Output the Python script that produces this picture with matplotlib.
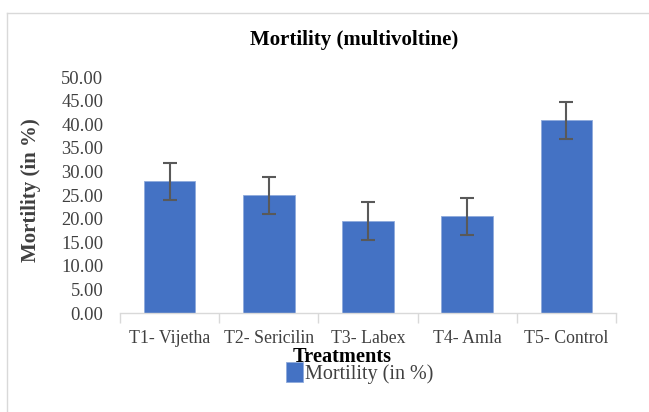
import matplotlib
matplotlib.use("Agg")
import matplotlib.pyplot as plt
import numpy as np

categories = ["T1- Vijetha", "T2- Sericilin", "T3- Labex", "T4- Amla", "T5- Control"]
mortality = [27.9, 24.9, 19.5, 20.5, 40.8]
errors = [3.9, 3.9, 3.95, 3.9, 3.9]
yticks = [0, 5, 10, 15, 20, 25, 30, 35, 40, 45, 50]

plt.rcParams['font.family'] = ['Liberation Serif', 'DejaVu Serif']

W, H = 649, 412
fig = plt.figure(figsize=(W / 100, H / 100), dpi=100)
ax = fig.add_axes([120 / W, 1 - 313 / H, (616 - 120) / W, (313 - 77) / H])

x = np.arange(len(categories))
ax.bar(x, mortality, width=0.52, color="#4472C4", edgecolor="#8FAADC", linewidth=0.6,
       yerr=errors, error_kw=dict(ecolor="#595959", elinewidth=1.5, capsize=5, capthick=1.5),
       label="Mortility (in %)", zorder=2)

ax.set_xlim(-0.5, len(categories) - 0.5)
ax.set_ylim(0, 50)
ax.set_yticks(yticks)
ax.set_yticklabels([f"{v:.2f}" for v in yticks], fontsize=13.3, color="#404040")
ax.tick_params(axis="y", length=0, pad=12)

ax.set_xticks(x)
ax.set_xticklabels(categories, fontsize=12.8, color="#404040")
ax.tick_params(axis="x", which="major", length=0, pad=12)
ax.set_xticks(np.arange(-0.5, len(categories), 1.0), minor=True)
ax.tick_params(axis="x", which="minor", length=7, color="#D9D9D9", width=1)

for s in ["top", "right", "left"]:
    ax.spines[s].set_visible(False)
ax.spines["bottom"].set_color("#D9D9D9")
ax.spines["bottom"].set_linewidth(1)

fig.text(354 / W, 1 - 40 / H, "Mortility (multivoltine)", ha="center", va="center",
         fontsize=15, fontweight="bold")
fig.text(31 / W, 1 - 190 / H, "Mortility (in %)", ha="center", va="center",
         rotation=90, fontsize=15, fontweight="bold", color="#404040")
fig.text(342 / W, 1 - 357 / H, "Treatments", ha="center", va="center",
         fontsize=14.7, fontweight="bold")

leg = fig.legend(loc="center", bbox_to_anchor=(360 / W, 1 - 373 / H), frameon=False,
                 fontsize=14.5, handlelength=0.85, handleheight=1.1, handletextpad=0.1,
                 borderpad=0)
for t in leg.get_texts():
    t.set_color("#404040")

# chart frame
fig.add_artist(plt.Line2D([7 / W, 1], [1 - 13 / H, 1 - 13 / H], color="#D9D9D9", lw=1,
                          transform=fig.transFigure))
fig.add_artist(plt.Line2D([7 / W, 7 / W], [1 - 13 / H, 0], color="#D9D9D9", lw=1,
                          transform=fig.transFigure))

fig.savefig("out.png", dpi=100)
